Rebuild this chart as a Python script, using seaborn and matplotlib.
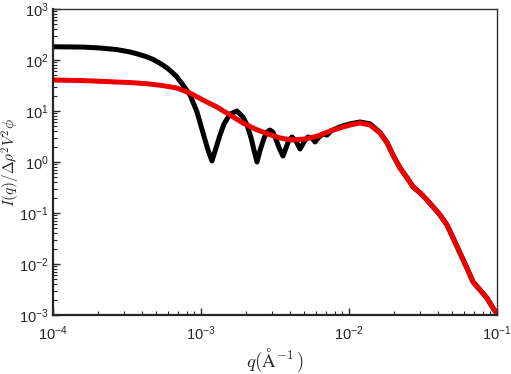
import matplotlib
matplotlib.use("Agg")
import matplotlib.pyplot as plt
from matplotlib.font_manager import FontProperties
import matplotlib.ticker as mticker
import seaborn as sns
import pandas as pd

# ---- data ----
q_black = [1.00e-4, 1.60e-4, 2.08e-4, 2.70e-4, 3.30e-4, 3.70e-4, 4.20e-4, 4.74e-4,
           5.30e-4, 5.89e-4, 6.40e-4, 6.88e-4, 7.55e-4,
           8.43e-4, 9.40e-4, 1.032e-3, 1.115e-3, 1.186e-3, 1.263e-3, 1.344e-3, 1.43e-3,
           1.57e-3, 1.75e-3, 1.92e-3, 2.05e-3, 2.18e-3, 2.28e-3,
           2.39e-3, 2.51e-3, 2.67e-3, 2.79e-3, 2.92e-3, 3.06e-3, 3.26e-3, 3.42e-3,
           3.58e-3, 3.75e-3, 3.93e-3, 4.12e-3, 4.38e-3, 4.67e-3, 4.97e-3, 5.28e-3,
           5.62e-3, 5.89e-3, 6.27e-3, 6.67e-3, 7.10e-3, 7.55e-3, 8.69e-3, 1.016e-2,
           1.187e-2, 1.387e-2, 1.62e-2, 1.81e-2, 1.98e-2, 2.21e-2, 2.47e-2, 2.71e-2,
           3.02e-2, 3.36e-2, 3.70e-2, 4.12e-2, 4.59e-2, 5.05e-2, 5.62e-2, 6.26e-2,
           6.89e-2, 7.68e-2, 8.55e-2, 9.39e-2, 1.00e-1]
I_black = [182, 179, 172, 160, 144, 132, 118, 103,
           86, 70, 57, 46.4, 32.4,
           20.6, 9.55, 3.71, 1.72, 1.05, 1.88, 3.38, 5.56,
           8.7, 10.0, 7.6, 5.3, 2.96, 1.72,
           1.0, 1.72, 2.96, 3.87, 4.24, 3.87, 2.47, 1.72,
           1.31, 1.88, 2.70, 3.09, 2.58, 1.80, 2.47, 3.09,
           2.96, 2.47, 3.09, 3.54, 3.38, 4.06, 4.9, 5.6,
           6.1, 5.6, 3.8, 2.4, 1.39, 0.77, 0.49, 0.327,
           0.249, 0.181, 0.132, 0.0918, 0.0585, 0.0326, 0.0165, 8.4e-3,
           4.46e-3, 3.1e-3, 2.16e-3, 1.38e-3, 1.05e-3]

q_red = [1.00e-4, 1.60e-4, 2.70e-4, 3.50e-4, 4.52e-4, 5.50e-4, 6.88e-4, 8.43e-4,
         1.032e-3, 1.28e-3, 1.57e-3,
         1.92e-3, 2.32e-3, 2.84e-3, 3.42e-3, 4.12e-3, 5.05e-3, 6.18e-3, 7.45e-3,
         8.69e-3, 1.016e-2, 1.187e-2, 1.387e-2, 1.62e-2, 1.81e-2, 1.98e-2, 2.21e-2,
         2.47e-2, 2.71e-2, 3.02e-2, 3.36e-2, 3.70e-2, 4.12e-2, 4.59e-2, 5.05e-2,
         5.62e-2, 6.26e-2, 6.89e-2, 7.68e-2, 8.55e-2, 9.39e-2, 1.00e-1]
I_red = [40.5, 39.5, 37.0, 35.8, 33.8, 31.5, 28.2, 22.5,
         16.4, 12.0, 8.35,
         5.82, 4.44, 3.54, 2.96, 2.70, 2.83, 3.24, 4.06,
         4.64, 5.31, 5.82, 5.31, 3.71, 2.36, 1.37, 0.762,
         0.485, 0.324, 0.247, 0.180, 0.131, 0.0914, 0.0582, 0.0324,
         0.0164, 8.35e-3, 4.44e-3, 3.09e-3, 2.15e-3, 1.37e-3, 1.05e-3]

x_ticks = [1e-4, 1e-3, 1e-2, 1e-1]
y_ticks = [1e-3, 1e-2, 1e-1, 1e0, 1e1, 1e2, 1e3]

df_black = pd.DataFrame({"q": q_black, "I": I_black})
df_red = pd.DataFrame({"q": q_red, "I": I_red})

sns.set_style("ticks")
plt.rcParams["font.family"] = ["Liberation Sans", "DejaVu Sans"]
plt.rcParams["mathtext.fontset"] = "custom"
plt.rcParams["mathtext.rm"] = "Liberation Sans"
plt.rcParams["mathtext.it"] = "Liberation Sans:italic"
plt.rcParams["mathtext.bf"] = "Liberation Sans:bold"

fig = plt.figure(figsize=(5.11, 3.74), dpi=100)
ax = fig.add_axes([53 / 511, 59 / 374, 444 / 511, 306 / 374])

sns.lineplot(data=df_black, x="q", y="I", ax=ax, color="black", lw=3.6,
             sort=False, estimator=None)
sns.lineplot(data=df_red, x="q", y="I", ax=ax, color="#ee0000", lw=3.6,
             sort=False, estimator=None)

ax.set_xscale("log")
ax.set_yscale("log")
ax.set_xlim(1e-4, 1e-1)
ax.set_ylim(1e-3, 1e3)
ax.set_xticks(x_ticks)
ax.set_yticks(y_ticks)
ax.xaxis.set_major_formatter(mticker.LogFormatterMathtext())
ax.yaxis.set_major_formatter(mticker.LogFormatterMathtext())
ax.xaxis.set_minor_locator(mticker.LogLocator(base=10, subs=range(2, 10), numticks=20))
ax.yaxis.set_minor_locator(mticker.LogLocator(base=10, subs=range(2, 10), numticks=20))
ax.yaxis.set_minor_formatter(mticker.NullFormatter())
ax.xaxis.set_minor_formatter(mticker.NullFormatter())

ax.tick_params(axis="both", which="major", direction="in", length=5, width=1.0,
               labelsize=10.5, top=False, right=False)
ax.tick_params(axis="both", which="minor", direction="in", length=3, width=0.8,
               top=False, right=False)
ax.tick_params(axis="x", pad=7)
ax.tick_params(axis="y", pad=3)

for side in ["left", "bottom"]:
    ax.spines[side].set_linewidth(1.6)
for side in ["top", "right"]:
    ax.spines[side].set_linewidth(1.0)
    ax.spines[side].set_color("#333333")

cm_x = FontProperties(size=13.5, math_fontfamily="cm")
cm_y = FontProperties(size=11, math_fontfamily="cm")
ax.set_xlabel(r"$q(\mathrm{\AA}^{-1}\,)$", fontproperties=cm_x)
ax.set_ylabel(r"$I(q)/\Delta\rho^2V^2\phi$", fontproperties=cm_y)
ax.xaxis.set_label_coords(0.5, -0.105)
ax.yaxis.set_label_coords(-0.069, 0.5)

fig.savefig("out.png", dpi=100)
